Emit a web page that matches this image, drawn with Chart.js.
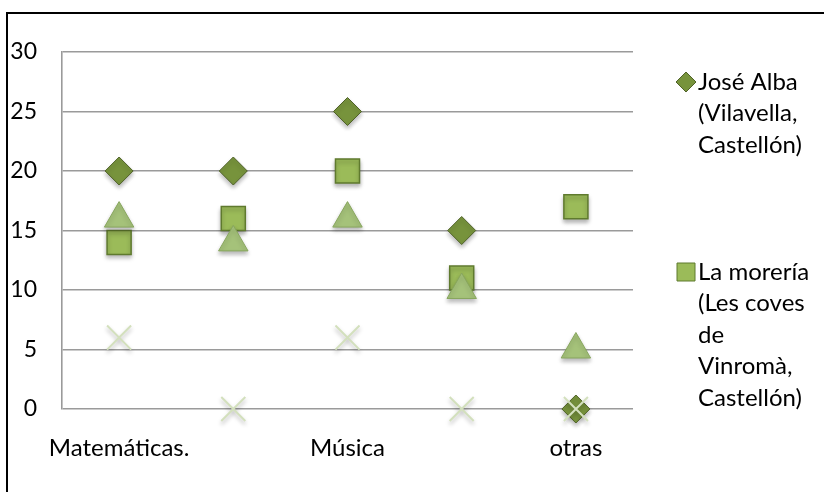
<!DOCTYPE html>
<html>
<head>
<meta charset="utf-8">
<script src="https://cdn.jsdelivr.net/npm/chart.js@4.4.1/dist/chart.umd.min.js"></script>
<style>
  html, body { margin: 0; padding: 0; background: #fff; overflow: hidden; }
  #wrap { position: relative; width: 824px; height: 492px; }
  #frame {
    position: absolute; left: 6px; top: 12px; width: 900px; height: 600px;
    border-top: 2px solid #000; border-left: 2px solid #000;
  }
  canvas { position: absolute; left: 0; top: 0; }
</style>
</head>
<body>
<div id="wrap">
  <div id="frame"></div>
  <canvas id="chart" width="824" height="492"></canvas>
</div>
<script>
const categories = ["Matemáticas.", "", "Música", "", "otras"];
const joseAlba = [20, 20, 25, 15, 0];
const laMoreria = [14, 16, 20, 11, 17];
const serie3 = [16, 14, 16, 10, 5];
const serie4 = [6, 0, 6, 0, 0];
const yTicks = [0, 5, 10, 15, 20, 25, 30];

const legendEntries = [
  { style: "rectRot", fill: "#77933c", stroke: "#4f6228", lines: ["José Alba", "(Vilavella,", "Castellón)"], y: 82 },
  { style: "rect", fill: "#9bbb59", stroke: "#5f7a2e", lines: ["La morería", "(Les coves", "de", "Vinromà,", "Castellón)"], y: 272 }
];

const FONT = "Lato, 'Open Sans', sans-serif";

// soft drop shadow under the markers
const markerShadow = {
  id: "markerShadow",
  beforeDatasetsDraw(chart) {
    const ctx = chart.ctx;
    ctx.save();
    ctx.shadowColor = "rgba(0,0,0,0.28)";
    ctx.shadowBlur = 4;
    ctx.shadowOffsetY = 3;
  },
  afterDatasetsDraw(chart) {
    chart.ctx.restore();
  }
};

// legend on the right with wrapped names
const sideLegend = {
  id: "sideLegend",
  afterDraw(chart) {
    const ctx = chart.ctx;
    ctx.save();
    legendEntries.forEach(e => {
      const cx = 686, cy = e.y;
      ctx.fillStyle = e.fill;
      ctx.strokeStyle = e.stroke;
      ctx.lineWidth = 1;
      ctx.beginPath();
      if (e.style === "rectRot") {
        ctx.moveTo(cx, cy - 10); ctx.lineTo(cx + 10, cy); ctx.lineTo(cx, cy + 10); ctx.lineTo(cx - 10, cy);
        ctx.closePath();
      } else {
        ctx.rect(cx - 9, cy - 9, 18, 18);
      }
      ctx.fill(); ctx.stroke();
      ctx.fillStyle = "#000";
      ctx.font = "24px " + FONT;
      ctx.textBaseline = "middle";
      e.lines.forEach((t, i) => ctx.fillText(t, 698, cy + i * 31.5));
    });
    ctx.restore();
  }
};

new Chart(document.getElementById("chart"), {
  type: "line",
  data: {
    labels: categories,
    datasets: [
      {
        label: "José Alba (Vilavella, Castellón)",
        data: joseAlba, showLine: false, order: 4, clip: false,
        pointStyle: "rectRot", pointRadius: 14, pointHoverRadius: 14,
        backgroundColor: "#77933c", borderColor: "#4f6228", borderWidth: 1
      },
      {
        label: "La morería (Les coves de Vinromà, Castellón)",
        data: laMoreria, showLine: false, order: 3, clip: false,
        pointStyle: "rect", pointRadius: 17, pointHoverRadius: 17,
        backgroundColor: "#9bbb59", borderColor: "#5f7a2e", borderWidth: 1.5
      },
      {
        label: "Serie 3",
        data: serie3, showLine: false, order: 2, clip: false,
        pointStyle: "triangle", pointRadius: 17, pointHoverRadius: 17,
        backgroundColor: "#a5c27a", borderColor: "#88a65e", borderWidth: 1
      },
      {
        label: "Serie 4",
        data: serie4, showLine: false, order: 1, clip: false,
        pointStyle: "crossRot", pointRadius: 17, pointHoverRadius: 17,
        backgroundColor: "#d3e0bd", borderColor: "#d3e0bd", borderWidth: 2
      }
    ]
  },
  options: {
    responsive: false,
    animation: false,
    layout: { padding: { top: 52, right: 191, bottom: 0, left: 0 } },
    plugins: {
      legend: { display: false },
      tooltip: { enabled: false }
    },
    scales: {
      x: {
        offset: true,
        grid: { display: false },
        border: { display: false },
        ticks: {
          color: "#000", font: { family: FONT, size: 24 }, padding: 17,
          autoSkip: false, maxRotation: 0
        },
        afterFit(axis) { axis.height = 83; }
      },
      y: {
        min: 0, max: 30,
        afterBuildTicks(axis) { axis.ticks = yTicks.map(v => ({ value: v })); },
        grid: { color: "#9a9a9a", lineWidth: 1.6, drawTicks: false },
        border: { display: true, color: "#9a9a9a", width: 1.6 },
        ticks: { color: "#000", font: { family: FONT, size: 23 }, padding: 25 },
        afterFit(axis) { axis.width = 62; }
      }
    }
  },
  plugins: [markerShadow, sideLegend]
});
</script>
</body>
</html>
